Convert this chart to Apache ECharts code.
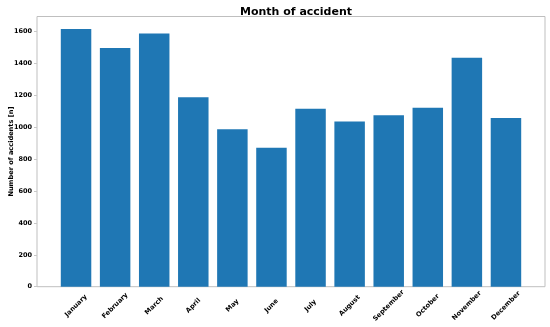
<!DOCTYPE html>
<html><head><meta charset="utf-8">
<script src="https://cdn.jsdelivr.net/npm/echarts@6/dist/echarts.min.js"></script>
<style>html,body{margin:0;padding:0;background:#fff}#c{width:550px;height:327px}</style>
</head><body><div id="c"></div>
<script>
const months = ['January','February','March','April','May','June','July','August','September','October','November','December'];
const accidents = [1617, 1497, 1588, 1189, 988, 871, 1117, 1036, 1076, 1122, 1437, 1058];
const yTicks = [0, 200, 400, 600, 800, 1000, 1200, 1400, 1600];
const yMax = 1695;
const FONT = 'DejaVu Sans';

const chart = echarts.init(document.getElementById('c'), null, {renderer: 'canvas'});
chart.setOption({
  animation: false,
  title: {
    text: 'Month of accident', left: 291, top: 2, textAlign: 'center',
    textStyle: {fontFamily: FONT, fontWeight: 'bold', fontSize: 11, color: '#000'}
  },
  grid: [
    {left: 37, right: 5, top: 16.5, bottom: 40.3, show: true, borderColor: '#bfbfbf', borderWidth: 1, backgroundColor: 'transparent', outerBoundsMode: 'none', containLabel: false},
    {left: 56.5, right: 24.5, top: 16.5, bottom: 40.3, outerBoundsMode: 'none', containLabel: false}
  ],
  xAxis: [
    {gridIndex: 0, type: 'value', min: 0, max: 1, show: false},
    {gridIndex: 1, type: 'category', data: months,
     axisLine: {show: false},
     axisTick: {show: false},
     axisLabel: {rotate: 45, interval: 0, align: 'center', verticalAlign: 'middle', margin: 19,
       fontFamily: FONT, fontWeight: 'bold', fontSize: 6.6, color: '#000'}}
  ],
  yAxis: [
    {gridIndex: 0, type: 'value', min: 0, max: yMax, interval: 200,
     name: 'Number of accidents [n]', nameLocation: 'middle', nameGap: 22, nameMoveOverlap: false,
     nameTextStyle: {fontFamily: FONT, fontWeight: 'bold', fontSize: 6.6, color: '#000'},
     axisLine: {show: false},
     axisTick: {show: true, length: 3, lineStyle: {color: '#c8c8c8'}},
     splitLine: {show: false},
     axisLabel: {showMaxLabel: false, margin: 5, fontFamily: FONT, fontWeight: 'bold', fontSize: 6.5, color: '#000',
       formatter: v => yTicks.includes(v) ? String(v) : ''}},
    {gridIndex: 1, type: 'value', min: 0, max: yMax, show: false}
  ],
  series: [{
    type: 'bar', xAxisIndex: 1, yAxisIndex: 1, data: accidents, barWidth: '78%',
    itemStyle: {color: '#1f77b4'}
  }]
});
</script>
</body></html>
